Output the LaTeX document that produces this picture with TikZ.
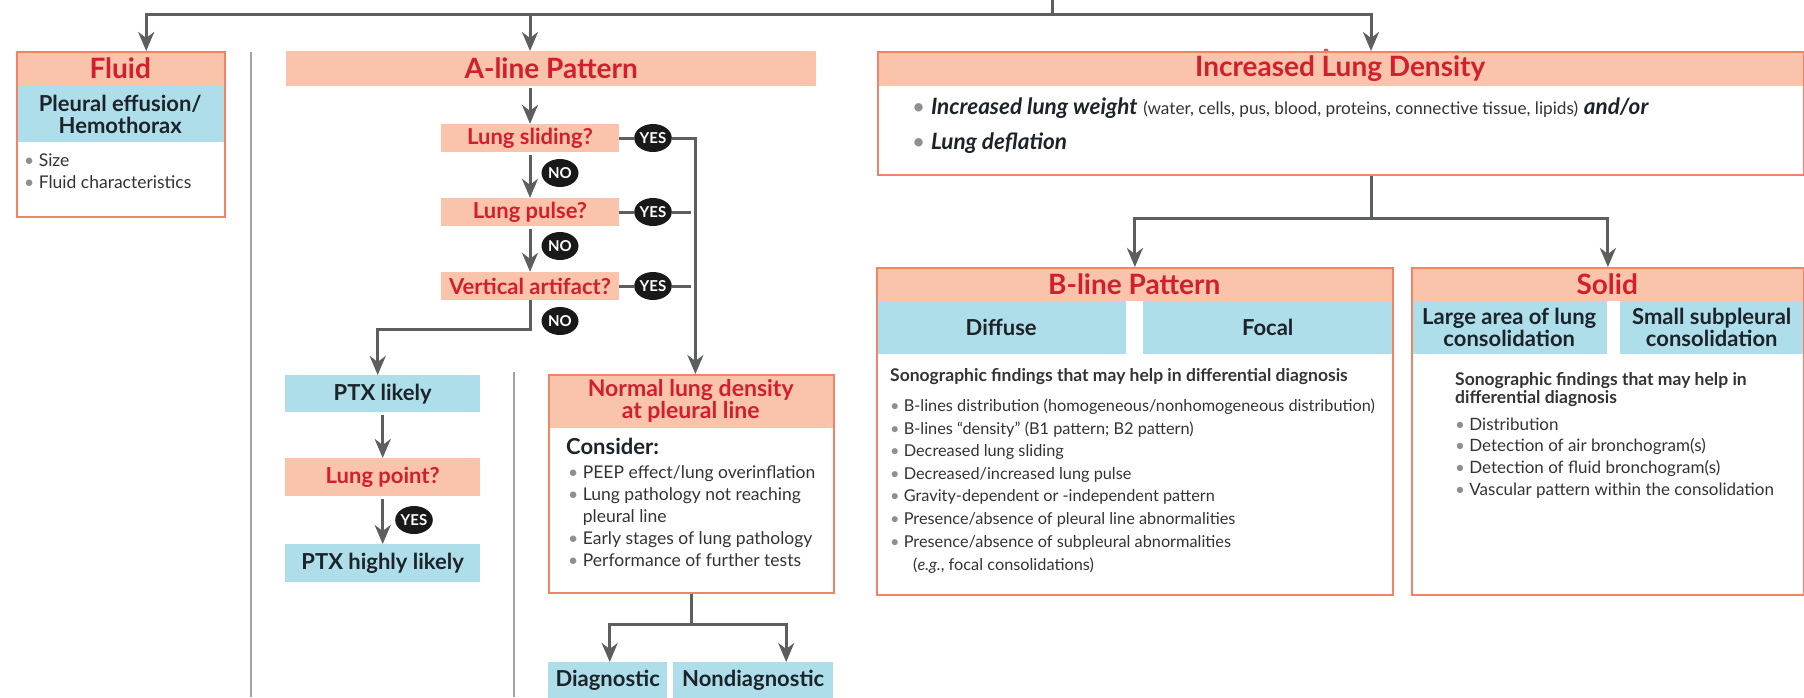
\documentclass[tikz,border=0pt]{standalone}
\usepackage{fontspec}
\setmainfont{Lato}
\usetikzlibrary{arrows.meta,shapes.geometric}
\definecolor{salmon}{HTML}{F9C3AC}
\definecolor{edge}{HTML}{EF8468}
\definecolor{alert}{HTML}{D21F2B}
\definecolor{sky}{HTML}{ADDEEA}
\definecolor{ink}{HTML}{1C2329}
\definecolor{body}{HTML}{333333}
\definecolor{flow}{HTML}{5D5E60}
\definecolor{rule}{HTML}{A3A3A3}
\newcommand\fsz[2]{\fontsize{#1}{#2}\selectfont}
\newcommand\dotitem{{\color{body!55}\textbullet}\ }
\newcommand\dotgap{\hphantom{\textbullet\ }}

\begin{document}
\begin{tikzpicture}[x=1pt,y=-1pt,>={Stealth[length=19pt,width=16pt,inset=6pt]},
  flow/.style={draw=flow,line width=3pt},
  panel/.style={draw=edge,line width=1.8pt,anchor=north west,inner sep=0pt},
  band/.style={fill=salmon,text=alert,font=\bfseries\fsz{28}{28},anchor=north west,
    inner sep=0pt,align=center},
  cell/.style={fill=sky,text=ink,font=\bfseries\fsz{22}{22},anchor=north west,
    inner sep=0pt,align=center},
  ask/.style={fill=salmon,text=alert,font=\bfseries\fsz{22}{22},minimum width=178pt,
    minimum height=28pt,inner sep=0pt},
  pill/.style={ellipse,fill=black!90,text=white,font=\bfseries\fsz{15}{15},
    minimum width=37pt,minimum height=28pt,inner sep=0pt},
  item/.style={anchor=base west,inner sep=0pt,text=body},
  sep/.style={draw=rule,line width=1.6pt}]
  \useasboundingbox (0,0) rectangle (1804,697);

  % fluid
  \node[band,minimum width=208pt,minimum height=35pt] (fluidhd) at (16,51) {Fluid};
  \node[cell,minimum width=208pt,minimum height=56pt] (fluidcell) at (16,86)
    {Pleural effusion/\\Hemothorax};
  \node[item,font=\fsz{17.5}{18}] (size) at (24,166) {\dotitem Size};
  \node[item,font=\fsz{17.5}{18}] (chars) at (24,188) {\dotitem Fluid characteristics};
  \node[panel,minimum width=208pt,minimum height=165pt] (fluid) at (16,51) {};

  \draw[sep] (251,52) -- (251,697);
  \draw[sep] (514,372) -- (514,697);

  % A-line branch
  \node[band,minimum width=530pt,minimum height=35pt] (aline) at (286,51) {A-line Pattern};
  \node[ask] (slide) at (530,138) {Lung sliding?};
  \node[ask] (pulse) at (530,212) {Lung pulse?};
  \node[ask] (vert) at (530,286) {Vertical artifact?};
  \foreach \n/\y in {1/138,2/212,3/286}
    \node[pill] (yes\n) at (653,\y) {YES};
  \foreach \n/\y in {1/173,2/246,3/321}
    \node[pill] (no\n) at (560,\y) {NO};

  \node[cell,minimum width=195pt,minimum height=37pt] (ptx) at (285,375) {PTX likely};
  \node[ask,anchor=north west,minimum width=195pt,minimum height=38pt]
    (point) at (285,458) {Lung point?};
  \node[pill] (yes4) at (414,520) {YES};
  \node[cell,minimum width=195pt,minimum height=38pt] (ptxhigh) at (285,544)
    {PTX highly likely};

  \node[band,font=\bfseries\fsz{23}{22},minimum width=285pt,minimum height=54pt]
    (normhd) at (548,374) {Normal lung density\\at pleural line};
  \node[item,font=\bfseries\fsz{22}{22},text=ink] (consider) at (566,454) {Consider:};
  \foreach \txt [count=\i] in {\dotitem PEEP effect/lung overinflation,
      \dotitem Lung pathology not reaching,\dotgap pleural line,
      \dotitem Early stages of lung pathology,\dotitem Performance of further tests}
    \node[item,font=\fsz{17.5}{20}] (nl\i) at (568,{478+22*(\i-1)}) {\txt};
  \node[panel,minimum width=285pt,minimum height=218pt] (normal) at (548,374) {};

  \node[cell,minimum width=119pt,minimum height=36pt] (diag) at (548,662) {Diagnostic};
  \node[cell,minimum width=160pt,minimum height=36pt] (nondiag) at (673,662) {Nondiagnostic};

  % increased density branch
  \node[band,minimum width=926pt,minimum height=35pt] (denshd) at (877,51)
    {Increased Lung Density};
  \fill[alert!70!salmon] (1326,51) circle (2.5pt);
  \node[item,font=\fsz{22.5}{22},text=ink] (weight) at (912,114)
    {\dotitem\textbf{\textit{Increased lung weight}}
     {\fsz{17.2}{18}\color{body}(water, cells, pus, blood, proteins, connective tissue, lipids)}
     \textbf{\textit{and/or}}};
  \node[item,font=\fsz{22.5}{22},text=ink] (deflate) at (912,149)
    {\dotitem\textbf{\textit{Lung deflation}}};
  \node[panel,minimum width=926pt,minimum height=123pt] (dens) at (877,51) {};

  \node[band,minimum width=516pt,minimum height=34pt] (blinehd) at (876,267) {B-line Pattern};
  \node[cell,minimum width=250pt,minimum height=53pt] (diffuse) at (876,301) {Diffuse};
  \node[cell,minimum width=249pt,minimum height=53pt] (focal) at (1143,301) {Focal};
  \node[item,font=\bfseries\fsz{17.5}{18}] (bhead) at (890,381)
    {Sonographic findings that may help in differential diagnosis};
  \foreach \txt [count=\i] in {B-lines distribution (homogeneous/nonhomogeneous distribution),
      B-lines “density” (B1 pattern; B2 pattern),Decreased lung sliding,
      Decreased/increased lung pulse,Gravity-dependent or -independent pattern,
      Presence/absence of pleural line abnormalities,
      Presence/absence of subpleural abnormalities}
    \node[item,font=\fsz{16.3}{18}] (bl\i) at (890,{411.5+22.6*(\i-1)}) {\dotitem\txt};
  \node[item,font=\fsz{16.3}{18}] (bl8) at (913,570) {(\textit{e.g.}, focal consolidations)};
  \node[panel,minimum width=516pt,minimum height=327pt] (bline) at (876,267) {};

  \node[band,minimum width=392pt,minimum height=34pt] (solidhd) at (1411,267) {Solid};
  \node[cell,minimum width=196pt,minimum height=53pt] (large) at (1411,301)
    {Large area of lung\\consolidation};
  \node[cell,minimum width=183pt,minimum height=53pt] (small) at (1620,301)
    {Small subpleural\\consolidation};
  \node[item,font=\bfseries\fsz{17.5}{18}] (shead1) at (1455,385)
    {Sonographic findings that may help in};
  \node[item,font=\bfseries\fsz{17.5}{18}] (shead2) at (1455,403) {differential diagnosis};
  \foreach \txt [count=\i] in {Distribution,Detection of air bronchogram(s),
      Detection of fluid bronchogram(s),Vascular pattern within the consolidation}
    \node[item,font=\fsz{17}{18}] (sl\i) at (1455,{430+21.7*(\i-1)}) {\dotitem\txt};
  \node[panel,minimum width=392pt,minimum height=327pt] (solid) at (1411,267) {};

  % connectors
  \coordinate (root) at (1052,0);
  \coordinate (hub) at (1052,14);
  \coordinate (split) at (1371,218);
  \draw[flow] (root) -- (hub);
  \draw[flow,->] (hub) -| ([xshift=26pt]fluidhd.north);
  \draw[flow,->] (hub) -| (aline.north -| slide.north);
  \draw[flow,->] (hub) -| (dens.north -| split);
  \draw[flow] (dens.south -| split) -- (split);
  \draw[flow,->] (split) -| (bline.north);
  \draw[flow,->] (split) -| (solid.north);

  \draw[flow,->,shorten <=2pt] (aline.south -| slide.north) -- (slide.north);
  \draw[flow,->,shorten <=3pt] (slide.south) -- (pulse.north);
  \draw[flow,->,shorten <=3pt] (pulse.south) -- (vert.north);
  \foreach \q/\n in {slide/1,pulse/2,vert/3}
    \draw[flow] (\q.east) -- (yes\n.west);
  \draw[flow,->] (yes1.east) -| ([xshift=4pt]normal.north);
  \draw[flow] (yes2.east) -- (yes2.east -| normal.north);
  \draw[flow] (yes3.east) -- (yes3.east -| normal.north);
  \draw[flow,->] (vert.south) -- ++(0,29) -| ([xshift=-5pt]ptx.north);
  \draw[flow,->,shorten <=3pt] (ptx.south) -- (point.north);
  \draw[flow,->,shorten <=3pt] (point.south) -- (ptxhigh.north);
  \draw[flow] (normal.south) -- ++(0,31) coordinate (fork);
  \draw[flow,->] (fork) -| ([xshift=2pt]diag.north);
  \draw[flow,->] (fork) -| ([xshift=33pt]nondiag.north);
\end{tikzpicture}
\end{document}
